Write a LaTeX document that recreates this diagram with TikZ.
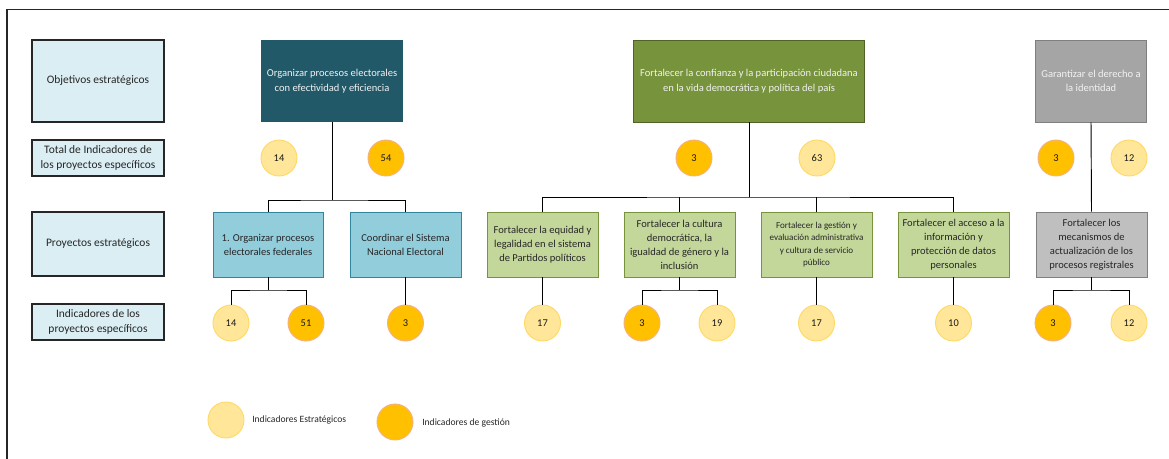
\documentclass[tikz,border=0pt]{standalone}
\usepackage{fontspec}
\setmainfont{Carlito}
\definecolor{labfill}{HTML}{DAEEF3}
\definecolor{tealobj}{HTML}{215968}
\definecolor{greenobj}{HTML}{77933C}
\definecolor{greenline}{HTML}{4F6228}
\definecolor{grayobj}{HTML}{A5A5A5}
\definecolor{grayline}{HTML}{7F7F7F}
\definecolor{projblue}{HTML}{92CDDC}
\definecolor{projblueline}{HTML}{31859C}
\definecolor{projgreen}{HTML}{C4D79B}
\definecolor{projgray}{HTML}{BFBFBF}
\definecolor{estrfill}{HTML}{FFE699}
\definecolor{estrline}{HTML}{FFD966}
\definecolor{gestfill}{HTML}{FFC000}
\definecolor{gestline}{HTML}{F4B183}
\definecolor{txtdark}{HTML}{262626}
% one drawing unit = 0.75pt; sizes below are given in those units
\tikzset{
  label box/.style={draw=black!85, line width=1pt, fill=labfill, text=txtdark,
    minimum width=99pt, minimum height={0.75*#1 pt}, align=center, inner sep=1pt,
    font=\fontsize{8.6}{11}\selectfont},
  obj box/.style={minimum height=61.5pt, align=center, inner sep=1pt, text=white!95!black,
    font=\fontsize{7.9}{11}\selectfont},
  proj box/.style={minimum height=48.75pt, minimum width=83.25pt, align=center, inner sep=1pt,
    text=txtdark, line width=0.7pt, font=\fontsize{7.9}{10.5}\selectfont},
  estr/.style={circle, draw=estrline, line width=0.7pt, fill=estrfill, minimum size=27pt,
    inner sep=0pt, text=black!90, font=\fontsize{7.8}{8}\selectfont},
  gest/.style={circle, draw=gestline, line width=0.7pt, fill=gestfill, minimum size=27pt,
    inner sep=0pt, text=black!90, font=\fontsize{7.8}{8}\selectfont},
  link/.style={draw=black, line width=0.7pt},
  legend text/.style={anchor=west, inner sep=0pt, text=txtdark, font=\fontsize{7.2}{8}\selectfont}
}
\begin{document}
\begin{tikzpicture}[x=0.75pt, y=-0.75pt]
\useasboundingbox (0,0) rectangle (1169,459);
% outer frame (top and left edges)
\draw[line width=1.1pt, black!85] (7,459) -- (7,9.5) -- (1169,9.5);

% row labels
\node[label box=82] (l1) at (98,81) {Objetivos estratégicos};
\node[label box=36] (l2) at (98,158) {Total de Indicadores de\\los proyectos específicos};
\node[label box=64] (l3) at (98,244) {Proyectos estratégicos};
\node[label box=36] (l4) at (98,322) {Indicadores de los\\proyectos específicos};

% strategic objectives
\node[obj box, fill=tealobj, minimum width=106.5pt] (o1) at (332,81)
  {Organizar procesos electorales\\con efectividad y eficiencia};
\node[obj box, fill=greenobj, draw=greenline, line width=0.6pt, minimum width=173.25pt] (o2) at (749,81)
  {Fortalecer la confianza y la participación ciudadana\\en la vida democrática y política del país};
\node[obj box, fill=grayobj, draw=grayline, line width=0.6pt, minimum width=83.25pt] (o3) at (1091,81)
  {Garantizar el derecho a\\la identidad};

% totals per objective
\node[estr] (t1) at (279,158) {14};
\node[gest] (t2) at (386,158) {54};
\node[gest] (t3) at (694,158) {3};
\node[estr] (t4) at (817,158) {63};
\node[gest] (t5) at (1056,158) {3};
\node[estr] (t6) at (1129,158) {12};

% strategic projects
\node[proj box, fill=projblue, draw=projblueline, minimum width=82.5pt] (p1) at (268,244.5)
  {1. Organizar procesos\\electorales federales};
\node[proj box, fill=projblue, draw=projblueline] (p2) at (405.5,244.5)
  {Coordinar el Sistema\\Nacional Electoral};
\node[proj box, fill=projgreen, draw=greenobj] (p3) at (542.5,244.5)
  {Fortalecer la equidad y\\legalidad en el sistema\\de Partidos políticos};
\node[proj box, fill=projgreen, draw=greenobj] (p4) at (679.5,244.5)
  {Fortalecer la cultura\\democrática, la\\igualdad de género y la\\inclusión};
\node[proj box, fill=projgreen, draw=greenobj, font=\fontsize{6.8}{9.4}\selectfont] (p5) at (816.5,244.5)
  {Fortalecer la gestión y\\evaluación administrativa\\y cultura de servicio\\público};
\node[proj box, fill=projgreen, draw=greenobj] (p6) at (953.5,244.5)
  {Fortalecer el acceso a la\\información y\\protección de datos\\personales};
\node[proj box, fill=projgray, draw=grayline] (p7) at (1091.5,244.5)
  {Fortalecer los\\mecanismos de\\actualización de los\\procesos registrales};

% indicators per project
\node[estr] (i1) at (231,323) {14};
\node[gest] (i2) at (306,323) {51};
\node[gest] (i3) at (405.5,323) {3};
\node[estr] (i4) at (542.5,323) {17};
\node[gest] (i5) at (642,323) {3};
\node[estr] (i6) at (717,323) {19};
\node[estr] (i7) at (816.5,323) {17};
\node[estr] (i8) at (953.5,323) {10};
\node[gest] (i9) at (1053,323) {3};
\node[estr] (i10) at (1129,323) {12};

% objective -> project connectors
\coordinate (j1) at (332,200);
\coordinate (j2) at (749,197);
\draw[link] (o1.south) -- (j1);
\draw[link] (p1.north) |- (j1) -| (p2.north);
\draw[link] (o2.south) -- (j2);
\draw[link] (p3.north) |- (j2) -| (p6.north);
\draw[link] (p4.north) -- (p4.north |- j2);
\draw[link] (p5.north) -- (p5.north |- j2);
\draw[link] (o3.south) -- (p7.north);

% project -> indicator connectors
\coordinate (k1) at (268,290);
\coordinate (k2) at (679.5,290);
\coordinate (k3) at (1091.5,290);
\draw[link] (p1.south) -- (k1);
\draw[link] (i1.north) |- (k1) -| (i2.north);
\draw[link] (p2.south) -- (i3.north);
\draw[link] (p3.south) -- (i4.north);
\draw[link] (p4.south) -- (k2);
\draw[link] (i5.north) |- (k2) -| (i6.north);
\draw[link] (p5.south) -- (i7.north);
\draw[link] (p6.south) -- (i8.north);
\draw[link] (p7.south) -- (k3);
\draw[link] (i9.north) |- (k3) -| (i10.north);

% legend
\node[estr] (le1) at (226,420) {};
\node[legend text] (lt1) at (252,420) {Indicadores Estratégicos};
\node[gest] (le2) at (395,422) {};
\node[legend text] (lt2) at (422,423) {Indicadores de gestión};
\end{tikzpicture}
\end{document}
